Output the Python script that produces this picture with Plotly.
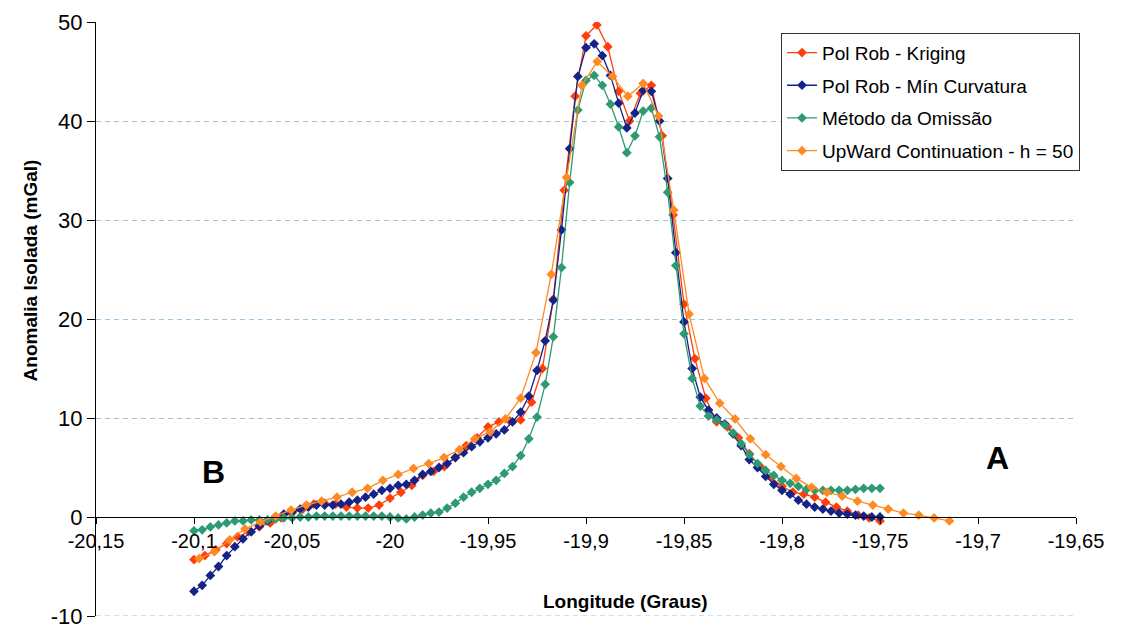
import numpy as np
import plotly.graph_objects as go

# ---------------- data ----------------
# sampling of the profiles (degrees of longitude)
LON_START = -20.1
STEP_FINE = 1 / 240      # Pol Rob - Mín Curvatura, Método da Omissão
STEP_KRIG = 1 / 180      # Pol Rob - Kriging
UPW_START = -20.0974
STEP_UPW = 1 / 128       # UpWard Continuation

kriging = [-4.3, -3.9, -3.3, -2.7, -2.0, -1.5, -1.0, -0.6, -0.1, 0.4,
           0.8, 1.3, 1.4, 1.3, 1.0, 0.9, 0.9, 1.2, 1.9, 2.5,
           3.2, 4.2, 4.6, 5.1, 6.0, 7.2, 8.0, 9.1, 9.6, 9.7,
           9.8, 11.6, 15.0, 22.0, 33.0, 42.5, 48.6, 49.7, 47.5, 43.0,
           40.0, 42.8, 43.6, 38.5, 30.5, 21.5, 16.0, 12.0, 9.6, 9.1,
           8.0, 6.4, 5.1, 4.0, 3.1, 2.5, 2.3, 2.0, 1.5, 1.0,
           0.6, 0.2, -0.1, -0.4]

min_curv = [-7.5, -6.9, -5.9, -5.0, -3.9, -3.0, -2.2, -1.5, -0.9, -0.4,
            0.0, 0.3, 0.5, 0.8, 1.0, 1.2, 1.2, 1.2, 1.3, 1.5,
            1.7, 2.0, 2.3, 2.7, 2.9, 3.2, 3.3, 3.7, 4.3, 4.6,
            5.0, 5.4, 6.0, 6.5, 7.1, 7.6, 8.0, 8.4, 8.8, 9.6,
            10.6, 12.2, 14.8, 17.8, 21.9, 29.0, 37.2, 44.5, 47.4, 47.8,
            46.6, 44.6, 41.8, 39.3, 40.8, 43.1, 43.0, 40.0, 34.2, 26.7,
            19.7, 15.0, 12.1, 10.8, 10.0, 9.4, 8.4, 7.2, 5.8, 5.0,
            4.1, 3.3, 2.7, 2.3, 1.7, 1.3, 1.0, 0.8, 0.6, 0.4,
            0.3, 0.2, 0.1, 0.0, 0.0]

omissao = [-1.4, -1.3, -1.0, -0.8, -0.6, -0.4, -0.4, -0.3, -0.3, -0.3,
           -0.2, -0.1, -0.1, 0.0, 0.0, 0.1, 0.1, 0.1, 0.1, 0.1,
           0.1, 0.1, 0.1, 0.1, 0.0, -0.1, -0.2, 0.0, 0.2, 0.4,
           0.5, 0.9, 1.4, 2.0, 2.5, 2.9, 3.3, 3.7, 4.4, 5.1,
           6.2, 7.9, 10.1, 13.4, 18.2, 25.2, 33.8, 41.1, 44.1, 44.6,
           43.6, 41.7, 39.4, 36.8, 38.5, 41.0, 41.3, 38.4, 32.8, 25.4,
           18.5, 14.0, 11.2, 10.2, 9.8, 9.3, 8.5, 7.4, 6.3, 5.4,
           4.7, 4.2, 3.7, 3.4, 3.1, 2.8, 2.7, 2.7, 2.7, 2.7,
           2.7, 2.8, 2.9, 2.9, 2.9]

upward = [-4.2, -3.5, -2.3, -1.2, -0.5, 0.1, 0.7, 1.2, 1.6, 2.0,
          2.5, 2.9, 3.7, 4.3, 4.9, 5.4, 6.0, 6.8, 7.9, 8.6,
          9.9, 12.0, 16.6, 24.5, 34.3, 43.6, 46.0, 44.5, 42.5, 43.8,
          40.5, 31.0, 20.5, 14.0, 11.5, 9.9, 7.9, 6.3, 5.1, 3.9,
          3.0, 2.5, 2.1, 1.6, 1.2, 0.8, 0.4, 0.2, -0.1, -0.4]

series_names = ["Pol Rob - Kriging", "Pol Rob - Mín Curvatura",
                "Método da Omissão", "UpWard Continuation - h = 50"]
series_colors = ["#FF3F0A", "#14238A", "#2E9A72", "#FF8A22"]

x_tickvals = [-20.15, -20.1, -20.05, -20.0, -19.95, -19.9, -19.85, -19.8, -19.75, -19.7, -19.65]
x_ticktext = ["-20,15", "-20,1", "-20,05", "-20", "-19,95", "-19,9", "-19,85",
              "-19,8", "-19,75", "-19,7", "-19,65"]
y_tickvals = [-10, 0, 10, 20, 30, 40, 50]
y_ticktext = ["-10", "0", "10", "20", "30", "40", "50"]

lon_krig = LON_START + STEP_KRIG * np.arange(len(kriging))
lon_fine = LON_START + STEP_FINE * np.arange(len(min_curv))
lon_upw = UPW_START + STEP_UPW * np.arange(len(upward))

FONT = "Liberation Sans, Arial, sans-serif"
GRID = "#9CC3DF"

fig = go.Figure()
for i, (name, xs, ys, col) in enumerate(zip(
        series_names,
        [lon_krig, lon_fine, lon_fine, lon_upw],
        [kriging, min_curv, omissao, upward],
        series_colors)):
    fig.add_trace(go.Scatter(
        x=xs, y=ys, mode="lines+markers", name=name, legendgroup=str(i),
        line=dict(color=col, width=1.3),
        marker=dict(symbol="diamond", size=7.5, color=col),
    ))

fig.update_layout(
    width=1116, height=621,
    margin=dict(l=88, r=48, t=14, b=13, autoexpand=False),
    paper_bgcolor="white", plot_bgcolor="white",
    font=dict(family=FONT, color="black"),
    showlegend=True,
    legend=dict(
        x=0.699, y=0.982, xanchor="left", yanchor="top",
        bgcolor="white", bordercolor="#333333", borderwidth=1,
        font=dict(size=19, family=FONT, color="black"),
        tracegroupgap=5,
    ),
    xaxis=dict(
        range=[-20.15, -19.65], anchor="free", position=1 / 6,
        automargin=False,
        tickmode="array", tickvals=x_tickvals, ticktext=x_ticktext,
        showgrid=False, zeroline=False,
        showline=True, linecolor="black", linewidth=1,
        ticks="outside", ticklen=6, tickcolor="black",
        tickfont=dict(size=20, family=FONT),
    ),
    yaxis=dict(
        range=[-10, 50], automargin=False,
        tickmode="array", tickvals=y_tickvals, ticktext=y_ticktext,
        ticklabeloverflow="allow",
        showgrid=True, gridcolor=GRID, griddash="5px,4px", gridwidth=1,
        zeroline=False,
        showline=True, linecolor="black", linewidth=1,
        ticks="outside", ticklen=8, tickcolor="black",
        tickfont=dict(size=22, family=FONT),
    ),
    shapes=[
        dict(type="line", xref="paper", yref="y", x0=0, x1=1, y0=-10, y1=-10,
             line=dict(color=GRID, width=1, dash="5px,4px"), layer="below"),
    ],
    annotations=[
        dict(text="<b>Anomalia Isolada (mGal)</b>", xref="paper", yref="paper",
             x=-0.08, y=0.582, textangle=-90, showarrow=False,
             font=dict(size=19, family=FONT)),
        dict(text="<b>Longitude (Graus)</b>", xref="paper", yref="paper",
             x=0.54, y=0.004, showarrow=False,
             font=dict(size=19, family=FONT)),
        dict(text="<b>B</b>", x=-20.09, y=4.5, xref="x", yref="y",
             showarrow=False, font=dict(size=32, family=FONT)),
        dict(text="<b>A</b>", x=-19.69, y=6.0, xref="x", yref="y",
             showarrow=False, font=dict(size=32, family=FONT)),
    ],
)

fig.write_html("out.html")
